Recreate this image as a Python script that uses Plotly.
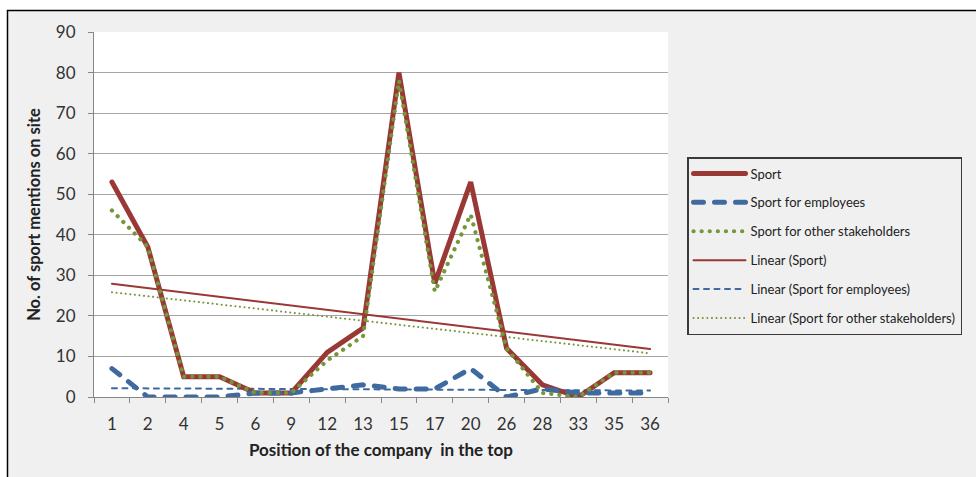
import numpy as np
import plotly.graph_objects as go

# Position of the company in the ranking (category axis)
positions = ["1", "2", "4", "5", "6", "9", "12", "13", "15", "17", "20", "26", "28", "33", "35", "36"]

# Number of sport mentions on each company site
sport = [53, 37, 5, 5, 1, 1, 11, 17, 80, 28, 53, 12, 3, 0, 6, 6]
sport_employees = [7, 0, 0, 0, 1, 1, 2, 3, 2, 2, 7, 0, 2, 1, 1, 1]
sport_stakeholders = [46, 37, 5, 5, 1, 1, 9, 15, 78, 26, 45, 12, 1, 0, 6, 6]

RED = "#9a3835"
BLUE = "#3e6aa0"
GREEN = "#76963a"
FONT = "Lato"


def linear_trend(values):
    idx = np.arange(1, len(values) + 1)
    slope, intercept = np.polyfit(idx, values, 1)
    return slope * idx + intercept


fig = go.Figure()

series = [
    ("Sport", sport, dict(color=RED, width=5)),
    ("Sport for employees", sport_employees, dict(color=BLUE, width=5, dash="10px,11px")),
    ("Sport for other stakeholders", sport_stakeholders, dict(color=GREEN, width=4.2, dash="0.1px,8px")),
]
trends = [
    ("Linear (Sport)", sport, dict(color=RED, width=2)),
    ("Linear (Sport for employees)", sport_employees, dict(color=BLUE, width=2, dash="5px,5.5px")),
    ("Linear (Sport for other stakeholders)", sport_stakeholders, dict(color=GREEN, width=2, dash="0.1px,4.5px")),
]

# Trend lines are drawn first so the data series sit on top of them;
# legendrank keeps the data series first in the legend.
for i, (name, vals, line) in enumerate(trends):
    fig.add_trace(go.Scatter(
        x=positions, y=linear_trend(vals), mode="lines", name=name,
        line=line, legendgroup=name, legendrank=10 + i, hoverinfo="skip",
    ))
for i, (name, vals, line) in enumerate(series):
    fig.add_trace(go.Scatter(
        x=positions, y=vals, mode="lines", name=name,
        line=line, legendgroup=name, legendrank=i + 1,
    ))

W, H = 976, 477
ML, MR, MT, MB = 94, 308, 32, 80
pw, ph = W - ML - MR, H - MT - MB


def px_x(x):
    return (x - ML) / pw


def px_y(y):
    return (H - MB - y) / ph


fig.update_layout(
    width=W, height=H,
    margin=dict(l=ML, r=MR, t=MT, b=MB),
    paper_bgcolor="white",
    plot_bgcolor="white",
    font=dict(family=FONT, size=14, color="#333333"),
    shapes=[
        # chart area with its black frame
        dict(type="rect", xref="paper", yref="paper", layer="below",
             x0=px_x(7.5), x1=px_x(990), y0=px_y(10.5), y1=px_y(490),
             fillcolor="#f0f0f0", line=dict(color="black", width=1.5)),
        # white plot area
        dict(type="rect", xref="paper", yref="paper", layer="below",
             x0=0, x1=1, y0=0, y1=1, fillcolor="white", line=dict(width=0)),
    ],
    xaxis=dict(
        type="category", tickson="boundaries", ticks="outside", ticklen=5,
        tickcolor="#868686", showline=True, linecolor="#868686", linewidth=1,
        showgrid=False, range=[-0.5, 15.5], ticklabelstandoff=12,
        tickfont=dict(size=17, color="#333333"),
        title=dict(text="<b>Position of the company  in the top</b>",
                   font=dict(size=17, color="#222222"), standoff=10),
    ),
    yaxis=dict(
        range=[0, 90], dtick=10, ticks="outside", ticklen=5,
        tickcolor="#868686", showline=True, linecolor="#868686", linewidth=1,
        showgrid=True, gridcolor="#a6a6a6", gridwidth=1.2, zeroline=False,
        ticklabelstandoff=9,
        tickfont=dict(size=17, color="#333333"),
        title=dict(text="<b>No. of sport mentions on site</b>",
                   font=dict(size=16.5, color="#222222"), standoff=11),
    ),
    legend=dict(
        x=px_x(687), xanchor="left", y=px_y(157), yanchor="top",
        bgcolor="#f0f0f0", bordercolor="#3a3a3a", borderwidth=1.5,
        font=dict(family=FONT, size=13, color="#222222"),
        traceorder="grouped", tracegroupgap=9, itemwidth=52,
    ),
    showlegend=True,
)

round_caps = (
    "var s=document.createElement('style');"
    "s.textContent='.js-line{stroke-linecap:round;}';"
    "document.head.appendChild(s);"
)
fig.write_html("out.html", post_script=round_caps)
